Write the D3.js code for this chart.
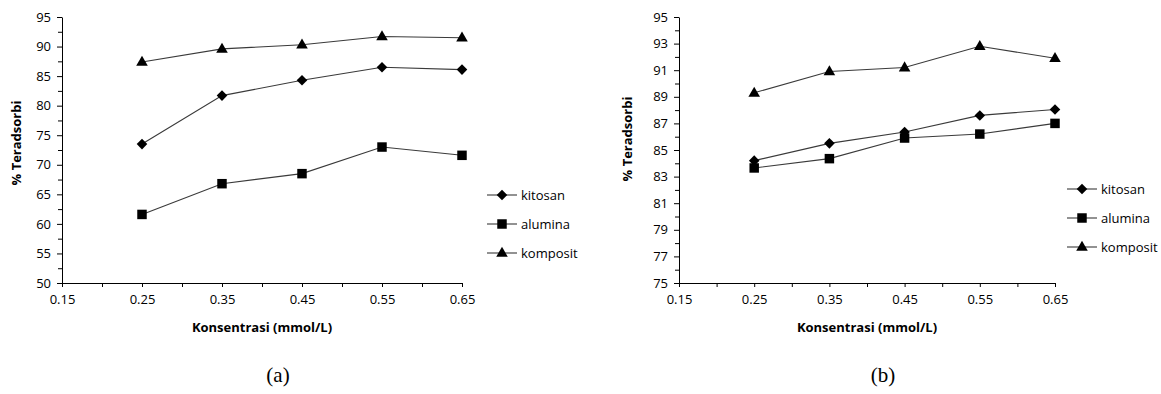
<!DOCTYPE html>
<html>
<head>
<meta charset="utf-8">
<script src="https://cdn.jsdelivr.net/npm/d3@7"></script>
<style>
  body { margin: 0; background: #fff; }
  svg { display: block; }
  .axis path, .axis line { stroke: #000; }
  .axis text { font-family: 'Open Sans', sans-serif; font-size: 13px; fill: #000; }
</style>
</head>
<body>
<div id="chart"></div>
<script>
const konsentrasi = [0.25, 0.35, 0.45, 0.55, 0.65];
const seriesNames = ['kitosan', 'alumina', 'komposit'];

// panel (a)
const kitosanA = [73.5, 81.7, 84.3, 86.5, 86.1];
const aluminaA = [61.6, 66.8, 68.5, 73.0, 71.6];
const kompositA = [87.4, 89.6, 90.3, 91.7, 91.5];

// panel (b)
const kitosanB = [84.2, 85.5, 86.35, 87.6, 88.05];
const aluminaB = [83.65, 84.35, 85.9, 86.2, 87.0];
const kompositB = [89.3, 90.9, 91.2, 92.8, 91.9];

const xTicks = [0.15, 0.25, 0.35, 0.45, 0.55, 0.65];
const xMinor = [0.20, 0.30, 0.40, 0.50, 0.60];
const yTicksA = [50, 55, 60, 65, 70, 75, 80, 85, 90, 95];
const yMinorA = [52.5, 57.5, 62.5, 67.5, 72.5, 77.5, 82.5, 87.5, 92.5];
const yTicksB = [75, 77, 79, 81, 83, 85, 87, 89, 91, 93, 95];
const yMinorB = [76, 78, 80, 82, 84, 86, 88, 90, 92, 94];

const width = 1161, height = 394;

const svg = d3.select('#chart').append('svg')
    .attr('width', width)
    .attr('height', height);

const symbols = {
    kitosan: d3.symbol().type(d3.symbolSquare).size(56),
    alumina: d3.symbol().type(d3.symbolSquare).size(90),
    komposit: d3.symbol().type(d3.symbolTriangle).size(58)
};

function marker(g, name, x, y) {
    const p = g.append('path')
        .attr('d', symbols[name]())
        .attr('fill', '#000');
    if (name === 'kitosan') {
        p.attr('transform', `translate(${x},${y}) rotate(45)`);
    } else if (name === 'komposit') {
        p.attr('transform', `translate(${x},${y + 0.5})`);
    } else {
        p.attr('transform', `translate(${x},${y})`);
    }
}

function drawPanel(cfg) {
    const g = svg.append('g');
    const x = d3.scaleLinear().domain([0.15, 0.65]).range([cfg.x0, cfg.x1]);
    const y = d3.scaleLinear().domain(cfg.yDomain).range([283, 17]);

    // minor ticks
    g.append('g')
        .attr('class', 'axis')
        .attr('transform', `translate(${cfg.x0},0)`)
        .call(d3.axisLeft(y).tickValues(cfg.yMinor).tickSize(4).tickFormat(''))
        .call(a => a.select('.domain').remove());
    g.append('g')
        .attr('class', 'axis')
        .attr('transform', 'translate(0,283)')
        .call(d3.axisBottom(x).tickValues(xMinor).tickSize(4).tickFormat(''))
        .call(a => a.select('.domain').remove());

    // y axis
    g.append('g')
        .attr('class', 'axis')
        .attr('transform', `translate(${cfg.x0},0)`)
        .call(d3.axisLeft(y).tickValues(cfg.yTicks).tickSize(5).tickSizeOuter(0).tickPadding(6).tickFormat(d3.format('d')));

    // x axis
    g.append('g')
        .attr('class', 'axis')
        .attr('transform', 'translate(0,283)')
        .call(d3.axisBottom(x).tickValues(xTicks).tickSize(4).tickSizeOuter(0).tickPadding(8).tickFormat(d3.format('.2f')));

    const line = d3.line()
        .x((d, i) => x(konsentrasi[i]))
        .y(d => y(d));

    cfg.series.forEach((vals, k) => {
        g.append('path')
            .datum(vals)
            .attr('d', line)
            .attr('fill', 'none')
            .attr('stroke', '#3a3a3a')
            .attr('stroke-width', 1.1);
        vals.forEach((v, i) => marker(g, seriesNames[k], x(konsentrasi[i]), y(v)));
    });

    // axis titles
    g.append('text')
        .attr('x', (cfg.x0 + cfg.x1) / 2)
        .attr('y', 332)
        .attr('text-anchor', 'middle')
        .style('font-family', "'Open Sans', sans-serif")
        .style('font-size', '13px')
        .style('font-weight', 'bold')
        .text('Konsentrasi (mmol/L)');

    g.append('text')
        .attr('transform', `translate(${cfg.yLabelX},${cfg.yLabelY}) rotate(-90)`)
        .attr('text-anchor', 'middle')
        .style('font-family', "'Open Sans', sans-serif")
        .style('font-size', '13px')
        .style('font-weight', 'bold')
        .text('% Teradsorbi');

    // legend
    const legend = g.append('g');
    seriesNames.forEach((name, i) => {
        const ly = cfg.legendY + i * 29;
        legend.append('line')
            .attr('x1', cfg.legendX).attr('x2', cfg.legendX + 30)
            .attr('y1', ly).attr('y2', ly)
            .attr('stroke', '#3a3a3a')
            .attr('stroke-width', 1.1);
        marker(legend, name, cfg.legendX + 15, ly);
        legend.append('text')
            .attr('x', cfg.legendX + 34)
            .attr('y', ly)
            .attr('dy', '0.35em')
            .style('font-family', "'Open Sans', sans-serif")
            .style('font-size', '13px')
            .text(name);
    });

    svg.append('text')
        .attr('x', cfg.captionX)
        .attr('y', 382)
        .attr('text-anchor', 'middle')
        .style('font-family', "'Liberation Serif', serif")
        .style('font-size', '21px')
        .text(cfg.caption);
}

drawPanel({
    x0: 62, x1: 462,
    yDomain: [50, 95],
    yTicks: yTicksA, yMinor: yMinorA,
    series: [kitosanA, aluminaA, kompositA],
    yLabelX: 21, yLabelY: 143,
    legendX: 487, legendY: 195,
    captionX: 278, caption: '(a)'
});

drawPanel({
    x0: 679, x1: 1055,
    yDomain: [75, 95],
    yTicks: yTicksB, yMinor: yMinorB,
    series: [kitosanB, aluminaB, kompositB],
    yLabelX: 632, yLabelY: 139,
    legendX: 1067, legendY: 189,
    captionX: 883, caption: '(b)'
});
</script>
</body>
</html>
